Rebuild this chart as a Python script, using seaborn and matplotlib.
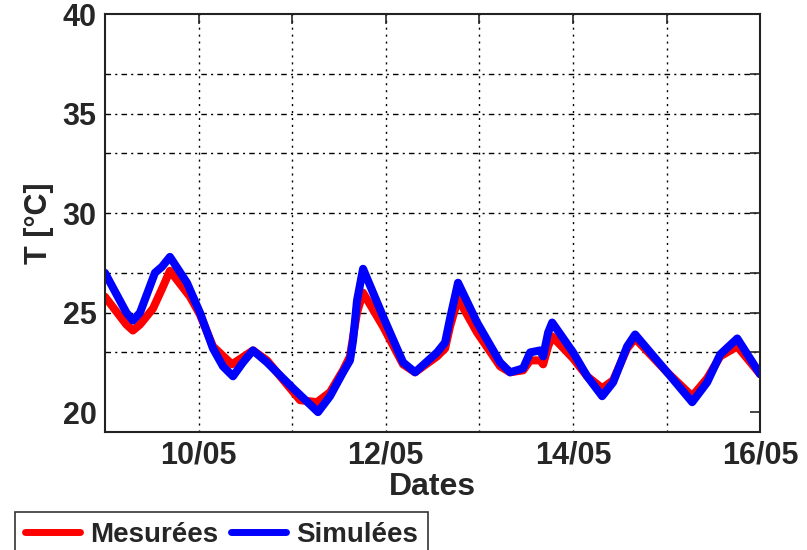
"""
Températures mesurées vs simulées, 09/05 -> 16/05.
Recreated MATLAB-style line chart with seaborn.
"""

import pandas as pd
import matplotlib
matplotlib.use("Agg")
import matplotlib.pyplot as plt
import seaborn as sns

# Simulées (blue) - time stamps and temperatures
sim_time = [
    "2013-05-09 00:00", "2013-05-09 05:30", "2013-05-09 07:11", "2013-05-09 09:00",
    "2013-05-09 12:50", "2013-05-09 14:37", "2013-05-09 16:40", "2013-05-09 21:02",
    "2013-05-10 00:22", "2013-05-10 03:42", "2013-05-10 06:16", "2013-05-10 08:50",
    "2013-05-10 11:24", "2013-05-10 13:58", "2013-05-10 17:33", "2013-05-11 00:13",
    "2013-05-11 06:38", "2013-05-11 09:43", "2013-05-11 13:03", "2013-05-11 14:50",
    "2013-05-11 15:37", "2013-05-11 16:38", "2013-05-11 18:11", "2013-05-11 23:19",
    "2013-05-12 04:26", "2013-05-12 07:31", "2013-05-12 13:10", "2013-05-12 15:13",
    "2013-05-12 16:29", "2013-05-12 18:32", "2013-05-12 23:25", "2013-05-13 05:19",
    "2013-05-13 07:53", "2013-05-13 11:13", "2013-05-13 13:01", "2013-05-13 15:35",
    "2013-05-13 16:21", "2013-05-13 17:38", "2013-05-13 18:40", "2013-05-14 00:02",
    "2013-05-14 03:38", "2013-05-14 07:29", "2013-05-14 10:18", "2013-05-14 13:53",
    "2013-05-14 15:56", "2013-05-15 00:09", "2013-05-15 06:34", "2013-05-15 10:25",
    "2013-05-15 13:45", "2013-05-15 18:07", "2013-05-16 00:00",
]
sim_temp = [
    27.0, 25.0, 24.6, 25.0,
    27.0, 27.3, 27.8, 26.5,
    25.0, 23.2, 22.3, 21.8,
    22.5, 23.1, 22.5, 21.2,
    20.0, 20.8, 22.0, 22.6,
    23.6, 25.6, 27.2, 24.8,
    22.5, 22.0, 23.0, 23.5,
    24.7, 26.5, 24.5, 22.5,
    22.0, 22.2, 23.0, 23.1,
    22.8, 24.0, 24.5, 23.0,
    21.8, 20.8, 21.5, 23.3,
    23.9, 22.0, 20.5, 21.5,
    22.9, 23.7, 21.9,
]

# Mesurées (red)
mes_time = [
    "2013-05-09 00:00", "2013-05-09 05:30", "2013-05-09 07:11", "2013-05-09 09:00",
    "2013-05-09 12:19", "2013-05-09 14:53", "2013-05-09 16:40", "2013-05-09 21:48",
    "2013-05-10 00:22", "2013-05-10 03:42", "2013-05-10 08:35", "2013-05-10 13:58",
    "2013-05-10 17:33", "2013-05-11 02:01", "2013-05-11 06:23", "2013-05-11 09:43",
    "2013-05-11 13:03", "2013-05-11 14:50", "2013-05-11 16:38", "2013-05-11 18:11",
    "2013-05-11 23:19", "2013-05-12 04:26", "2013-05-12 07:31", "2013-05-12 13:10",
    "2013-05-12 15:13", "2013-05-12 16:29", "2013-05-12 18:32", "2013-05-12 23:25",
    "2013-05-13 05:19", "2013-05-13 07:53", "2013-05-13 11:13", "2013-05-13 13:01",
    "2013-05-13 15:35", "2013-05-13 16:21", "2013-05-13 17:38", "2013-05-13 18:40",
    "2013-05-14 00:02", "2013-05-14 03:38", "2013-05-14 07:29", "2013-05-14 10:18",
    "2013-05-14 13:53", "2013-05-14 15:56", "2013-05-15 00:09", "2013-05-15 06:34",
    "2013-05-15 10:25", "2013-05-15 13:45", "2013-05-15 18:07", "2013-05-16 00:00",
]
mes_temp = [
    25.8, 24.4, 24.1, 24.4,
    25.2, 26.3, 27.1, 25.8,
    24.9, 23.3, 22.4, 23.1,
    22.6, 20.6, 20.5, 21.0,
    22.1, 22.8, 25.0, 26.0,
    24.3, 22.4, 22.0, 22.8,
    23.2, 24.3, 25.7, 24.0,
    22.3, 22.0, 22.1, 22.6,
    22.6, 22.4, 23.3, 23.8,
    22.7, 21.8, 21.2, 21.6,
    23.2, 23.7, 22.0, 20.8,
    21.7, 22.8, 23.3, 21.9,
]

y_ticks = [20, 23, 25, 27, 30, 33, 35, 37, 40]
y_labels = ["20", "", "25", "", "30", "", "35", "", "40"]
x_days = pd.date_range("2013-05-09", "2013-05-16", freq="D")
x_labels = ["", "10/05", "", "12/05", "", "14/05", "", "16/05"]


def main():
    sns.set_style("white")
    plt.rcParams["font.family"] = ["Liberation Sans", "DejaVu Sans"]
    plt.rcParams["font.weight"] = "bold"

    df = pd.concat([
        pd.DataFrame({"Date": pd.to_datetime(mes_time), "T": mes_temp, "serie": "Mesurées"}),
        pd.DataFrame({"Date": pd.to_datetime(sim_time), "T": sim_temp, "serie": "Simulées"}),
    ], ignore_index=True)

    fig = plt.figure(figsize=(8.07, 5.50), dpi=100)
    ax = fig.add_axes([0.130, 0.2145, 0.812, 0.760])

    sns.lineplot(data=df, x="Date", y="T", hue="serie",
                 palette={"Mesurées": "#ff0000", "Simulées": "#0000ff"},
                 linewidth=5.8, ax=ax, legend=False,
                 solid_joinstyle="round", solid_capstyle="round")

    ax.set_xlim(x_days[0], x_days[-1])
    ax.set_ylim(19, 40)
    ax.set_xticks(x_days)
    ax.set_xticklabels(x_labels)
    ax.set_yticks(y_ticks)
    ax.set_yticklabels(y_labels)

    # MATLAB-ish grid
    for d in x_days[1:-1]:
        ax.axvline(d, color="black", lw=1.0, ls=(0, (1.5, 3.5)), zorder=0)
    for t in y_ticks[1:-1]:
        ax.axhline(t, color="black", lw=1.0, ls=(0, (4, 3, 1.5, 3)), zorder=0)

    ax.tick_params(direction="in", length=7, width=1.2, top=True, right=True,
                   labelsize=22, pad=6)
    for s in ax.spines.values():
        s.set_linewidth(1.5)
        s.set_color("#222222")

    ax.set_xlabel("Dates", fontsize=23, fontweight="bold", labelpad=1)
    ax.set_ylabel("T [°C]", fontsize=22, fontweight="bold", labelpad=6)

    handles = [plt.Line2D([], [], color="#ff0000", lw=5),
               plt.Line2D([], [], color="#0000ff", lw=5)]
    leg = fig.legend(handles, ["Mesurées", "Simulées"], loc="upper left",
                     bbox_to_anchor=(0.0186, 0.069), ncol=2, fontsize=20,
                     frameon=True, fancybox=False, handlelength=2.0,
                     handletextpad=0.35, columnspacing=0.45, borderpad=0.35,
                     borderaxespad=0)
    leg.get_frame().set_edgecolor("black")
    leg.get_frame().set_linewidth(1.2)

    fig.savefig("out.png", dpi=100)


if __name__ == "__main__":
    main()
